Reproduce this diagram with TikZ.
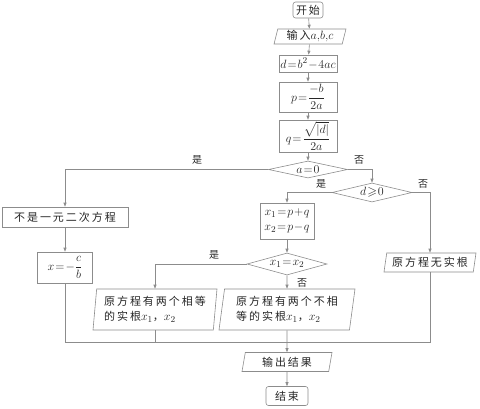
\documentclass[tikz,border=0pt]{standalone}
\usepackage{amsmath,amssymb}
\usepackage{fontspec}
\newfontfamily\cjkf[LetterSpace=18]{Noto Sans CJK SC}
\newfontfamily\cjklab{Noto Sans CJK SC}
\newcommand\zh{\cjkf\fontsize{11}{15}\selectfont}
\usetikzlibrary{shapes.geometric,arrows.meta}
\definecolor{lc}{HTML}{8C8C8C}
\definecolor{tc}{HTML}{262626}
\tikzset{
  base/.style={draw=lc,line width=0.6pt,inner sep=0pt,text=tc,font=\fontsize{12.5}{15}\selectfont},
  proc/.style={base,rectangle},
  term/.style={base,rectangle,rounded corners=2.5pt},
  io/.style={base,trapezium,trapezium stretches body=true,trapezium left angle=#1,trapezium right angle=180-#1},
  dec/.style={base,diamond,aspect=4},
  arr/.style={draw=lc,line width=0.6pt,-{Triangle[length=4pt,width=3pt]}},
  ln/.style={draw=lc,line width=0.6pt},
  lab/.style={inner sep=0pt,text=tc,font=\cjklab\fontsize{10}{12}\selectfont}
}
\begin{document}
\begin{tikzpicture}[x=1pt,y=-1pt]
\thickmuskip=1.5mu \medmuskip=1mu
\useasboundingbox (0,0) rectangle (480,408);
\node[term,minimum width=30pt,minimum height=16pt] (start) at (308,10) {\zh 开始};
\node[io=72,minimum width=72pt,minimum height=15pt] (input) at (310,36.5) {\zh 输入\fontsize{12.5}{15}\selectfont$a,\!b,\!c$};
\node[proc,minimum width=58pt,minimum height=17pt] (dd) at (308,63.5) {$d=b^2-4ac$};
\node[proc,minimum width=58pt,minimum height=30pt] (pp) at (308,97) {$p=\dfrac{-b}{2a}$};
\node[proc,minimum width=58pt,minimum height=32pt] (qq) at (308,136) {$q=\dfrac{\sqrt{|d|}}{2a}$};
\node[dec,minimum width=79pt,minimum height=17pt] (a0) at (308,169.5) {$a=0$};
\node[dec,minimum width=80pt,minimum height=19pt] (dge) at (372,192.5) {$d\geqslant 0$};
\node[proc,minimum width=126pt,minimum height=20pt] (notq) at (65,217) {\zh 不是一元二次方程};
\node[proc,minimum width=55pt,minimum height=31pt] (xcb) at (65,267.5) {$x=-\dfrac{c}{b}$};
\node[proc,minimum width=54pt,minimum height=36pt,align=center] (xx) at (287,221) {$x_1=p+q$\\[0pt]$x_2=p-q$};
\node[dec,minimum width=80pt,minimum height=22pt] (eq) at (287,264) {$x_1=x_2$};
\node[io=82,minimum width=124pt,minimum height=41pt,align=left] (par1) at (155,309.5) {\zh 原方程有两个相等\\\zh 的实根\fontsize{12.5}{15}\selectfont$x_1$\zh ，\fontsize{12.5}{15}\selectfont$x_2$};
\node[io=78,minimum width=136pt,minimum height=41pt,align=left] (par2) at (287,309.5) {\zh 原方程有两个不相\\\zh 等的实根\fontsize{12.5}{15}\selectfont$x_1$\zh ，\fontsize{12.5}{15}\selectfont$x_2$};
\node[io=75,minimum width=92pt,minimum height=19pt] (noroot) at (430,262.5) {\zh 原方程无实根};
\node[io=72,minimum width=90pt,minimum height=19pt] (out) at (287,362) {\zh 输出结果};
\node[term,minimum width=42pt,minimum height=19pt] (stop) at (287,396) {\zh 结束};
\coordinate (join) at (287,342);
% labels
\node[lab] (l1) at (197,160) {是};
\node[lab] (l2) at (359,160) {否};
\node[lab] (l3) at (321,184) {是};
\node[lab] (l4) at (423,184) {否};
\node[lab] (l5) at (214,255) {是};
\node[lab] (l6) at (302,283) {否};
% connectors
\draw[arr] (start) -- (input);
\draw[arr] (input) -- (dd);
\draw[arr] (dd) -- (pp);
\draw[arr] (pp) -- (qq);
\draw[arr] (qq) -- (a0);
\draw[arr] (a0.west) -| (notq.north);
\draw[arr] (a0.east) -| (dge.north);
\draw[arr] (notq) -- (xcb);
\draw[arr] (dge.west) -| (xx.north);
\draw[arr] (dge.east) -| (noroot.north);
\draw[arr] (xx) -- (eq);
\draw[arr] (eq.west) -| (par1.north);
\draw[arr] (eq.south) -- (par2.north);
\draw[ln] (xcb.south) |- (join);
\draw[ln] (noroot.south) |- (join);
\draw[ln] (par1.south) -- (par1.south |- join);
\draw[arr] (par2.south) -- (out.north);
\draw[arr] (out) -- (stop);
\end{tikzpicture}
\end{document}
